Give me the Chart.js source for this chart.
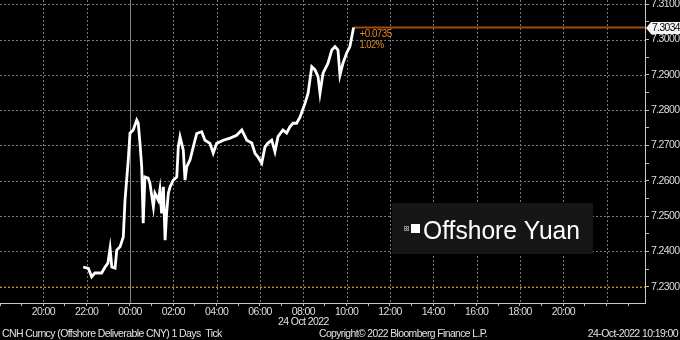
<!DOCTYPE html>
<html><head><meta charset="utf-8">
<script src="https://cdn.jsdelivr.net/npm/chart.js@4.4.0/dist/chart.umd.min.js"></script>
<style>html,body{margin:0;padding:0;background:#000;}#wrap{width:680px;height:340px;}</style>
</head><body><div id="wrap"><canvas id="c" width="680" height="340"></canvas></div>
<script>
// hours relative to 00:00 on 24 Oct 2022 (negative = 23 Oct)
const hours = [-2.16,-1.92,-1.77,-1.62,-1.31,-1.15,-1.02,-0.92,-0.84,-0.69,
  -0.61,-0.46,-0.31,-0.23,-0.08,0,0.15,0.31,0.38,0.46,
  0.54,0.61,0.69,0.84,0.92,1.08,1.15,1.31,1.38,1.46,
  1.54,1.62,1.69,1.77,1.85,2.00,2.16,2.23,2.31,2.46,
  2.54,2.62,2.77,2.92,3.08,3.31,3.46,3.69,3.84,4.00,
  4.31,4.62,4.92,5.16,5.39,5.62,5.77,5.91,6.08,6.23,
  6.37,6.54,6.69,6.83,7.06,7.23,7.38,7.52,7.69,7.85,
  8.08,8.22,8.39,8.54,8.68,8.77,8.91,9.14,9.31,9.46,
  9.60,9.69,9.83,10.00,10.15,10.32];
const prices = [7.2356,7.2352,7.2328,7.2339,7.2339,7.2356,7.2367,7.2409,7.2356,7.2353,
  7.2404,7.2413,7.2441,7.2545,7.2659,7.2735,7.2744,7.2772,7.2763,7.2707,
  7.2640,7.2480,7.2611,7.2608,7.2593,7.2526,7.2565,7.2545,7.2574,7.2508,
  7.2583,7.2432,7.2508,7.2565,7.2583,7.2602,7.2611,7.2696,7.2725,7.2687,
  7.2602,7.2640,7.2659,7.2696,7.2734,7.2739,7.2715,7.2706,7.2678,7.2706,
  7.2715,7.2721,7.2729,7.2744,7.2715,7.2707,7.2678,7.2667,7.2650,7.2696,
  7.2707,7.2715,7.2682,7.2725,7.2744,7.2735,7.2753,7.2763,7.2763,7.2781,
  7.2820,7.2848,7.2923,7.2914,7.2895,7.2848,7.2905,7.2933,7.2970,7.2980,
  7.2970,7.2899,7.2933,7.2962,7.2980,7.3034];
const prevClose = 7.2299;
const lastPrice = prices[prices.length - 1];
const xMin = -6, xMax = 23.77;
const yMin = 7.2254, yMax = 7.3112;
const xLabelFirst = -4, xLabelLast = 20;
const seriesName = 'Offshore Yuan';
const dateLabel = '24 Oct 2022';
const footLeft = 'CNH Curncy (Offshore Deliverable CNY) 1 Days  Tick';
const footMid = 'Copyright\u00A9 2022 Bloomberg Finance L.P.';
const footRight = '24-Oct-2022 10:19:00';

const FONT = "'Liberation Sans', Arial, sans-serif";
const SPACING = '-0.6px';
const GRID = '#7a7a7a';
function hh(v){ const h = ((Math.round(v) % 24) + 24) % 24; return (h < 10 ? '0' : '') + h + ':00'; }
function isMajorY(v){ return Math.abs(v*100 - Math.round(v*100)) < 1e-6; }
function isGridX(v){ return Math.round(v) % 2 === 0 && v > xMin && Math.round(v) !== 0; }

const overlay = {
  id: 'overlay',
  beforeUpdate(chart){ chart.ctx.letterSpacing = SPACING; },
  beforeDraw(chart){ chart.ctx.letterSpacing = SPACING; },
  beforeDatasetsDraw(chart){
    const {ctx, chartArea: a} = chart;
    const xs = chart.scales.x, ys = chart.scales.y;
    ctx.save();
    ctx.strokeStyle = GRID; ctx.lineWidth = 1; ctx.setLineDash([2, 2]);
    ctx.beginPath();
    xs.ticks.forEach(t => { if (isGridX(t.value)) { const p = Math.round(xs.getPixelForValue(t.value)) + 0.5; ctx.moveTo(p, a.top); ctx.lineTo(p, a.bottom); } });
    ys.ticks.forEach(t => { if (isMajorY(t.value)) { const p = Math.round(ys.getPixelForValue(t.value)) + 0.5; ctx.moveTo(a.left, p); ctx.lineTo(a.right, p); } });
    ctx.stroke();
    ctx.setLineDash([]);
    const px = Math.round(xs.getPixelForValue(0)) + 0.5;
    ctx.strokeStyle = '#808080';
    ctx.beginPath(); ctx.moveTo(px, a.top); ctx.lineTo(px, a.bottom); ctx.stroke();
    ctx.restore();
  },
  afterDraw(chart){
    const {ctx, chartArea: a} = chart;
    const xs = chart.scales.x, ys = chart.scales.y;
    const lx = xs.getPixelForValue(hours[hours.length-1]);
    const ly = ys.getPixelForValue(lastPrice);
    ctx.save();
    ctx.letterSpacing = SPACING;
    const chg = lastPrice - prevClose;
    ctx.fillStyle = '#e08a1c';
    ctx.font = '10.5px ' + FONT;
    ctx.textAlign = 'left'; ctx.textBaseline = 'middle';
    ctx.fillText((chg >= 0 ? '+' : '') + chg.toFixed(4), lx + 6, ly + 7, 32);
    ctx.fillText((chg / prevClose * 100).toFixed(2) + '%', lx + 6, ly + 18, 24);
    const tx = a.right + 1, ty = Math.round(ly);
    ctx.fillStyle = '#f4f4f4';
    ctx.beginPath();
    ctx.moveTo(tx, ty);
    ctx.lineTo(tx + 5, ty - 6);
    ctx.lineTo(680, ty - 6);
    ctx.lineTo(680, ty + 6);
    ctx.lineTo(tx + 5, ty + 6);
    ctx.closePath(); ctx.fill();
    ctx.fillStyle = '#000';
    ctx.font = '10.5px ' + FONT;
    ctx.fillText(lastPrice.toFixed(4), tx + 6, ty + 0.5, 28);
    ctx.fillStyle = '#161616';
    ctx.fillRect(392, 203, 201, 51);
    ctx.strokeStyle = '#8a8a8a'; ctx.lineWidth = 1;
    ctx.strokeRect(404.5, 226.5, 4, 4);
    ctx.beginPath(); ctx.moveTo(405, 228.5); ctx.lineTo(408, 228.5); ctx.moveTo(406.5, 227); ctx.lineTo(406.5, 230); ctx.stroke();
    ctx.fillStyle = '#ffffff';
    ctx.fillRect(411, 224, 9, 9);
    ctx.letterSpacing = '0px';
    ctx.font = '26px ' + FONT;
    ctx.textBaseline = 'alphabetic';
    ctx.fillText(seriesName, 423, 238.5, 157);
    ctx.letterSpacing = SPACING;
    ctx.fillStyle = '#e2e2e2';
    ctx.font = '10.5px ' + FONT;
    ctx.textBaseline = 'middle';
    ctx.textAlign = 'center';
    ctx.fillText(dateLabel, xs.getPixelForValue(8), 322, 51);
    ctx.textAlign = 'left';
    ctx.fillText(footLeft, 2, 334, 220);
    ctx.fillText(footMid, 319, 334, 168);
    ctx.textAlign = 'right';
    ctx.fillText(footRight, 678, 334, 91);
    ctx.restore();
  }
};

new Chart(document.getElementById('c'), {
  type: 'line',
  data: {
    datasets: [
      { data: hours.map((h, i) => ({x: h, y: prices[i]})), borderColor: '#ffffff', borderWidth: 2.8,
        pointRadius: 0, tension: 0, fill: false, order: 1 },
      { data: [{x: hours[hours.length-1], y: lastPrice}, {x: xMax, y: lastPrice}], borderColor: '#a04c0c',
        borderWidth: 2, pointRadius: 0, order: 2 },
      { data: [{x: xMin, y: prevClose}, {x: xMax, y: prevClose}], borderColor: '#ff8c00',
        borderWidth: 1, borderDash: [2, 2], pointRadius: 0, order: 3 }
    ]
  },
  options: {
    responsive: false, animation: false, devicePixelRatio: 1,
    layout: { padding: 0 },
    plugins: { legend: { display: false }, tooltip: { enabled: false } },
    scales: {
      x: {
        type: 'linear', min: xMin, max: xMax,
        ticks: { stepSize: 1, includeBounds: false, autoSkip: false, maxRotation: 0, minRotation: 0,
          color: '#dedede', font: { family: FONT, size: 10.5 }, padding: 0,
          callback: (v) => (Math.round(v) % 2 === 0 && v >= xLabelFirst && v <= xLabelLast) ? hh(v) : '' },
        grid: { drawOnChartArea: false, color: '#bdbdbd', tickColor: '#bdbdbd', tickLength: 3, lineWidth: 1 },
        border: { color: '#c8c8c8', width: 1 },
        afterFit: (s) => { s.height = 37; s.paddingLeft = 0; s.paddingRight = 0; }
      },
      y: {
        type: 'linear', position: 'right', min: yMin, max: yMax,
        ticks: { stepSize: 0.005, includeBounds: false, autoSkip: false, color: '#dedede',
          font: { family: FONT, size: 10.5 }, padding: 2,
          callback: (v) => isMajorY(v) ? v.toFixed(4) : '' },
        grid: { drawOnChartArea: false, color: '#bdbdbd', tickColor: '#bdbdbd', tickLength: 4, lineWidth: 1 },
        border: { color: '#c8c8c8', width: 1 },
        afterFit: (s) => { s.width = 35; s.paddingTop = 0; s.paddingBottom = 0; }
      }
    }
  },
  plugins: [overlay]
});
</script></body></html>
